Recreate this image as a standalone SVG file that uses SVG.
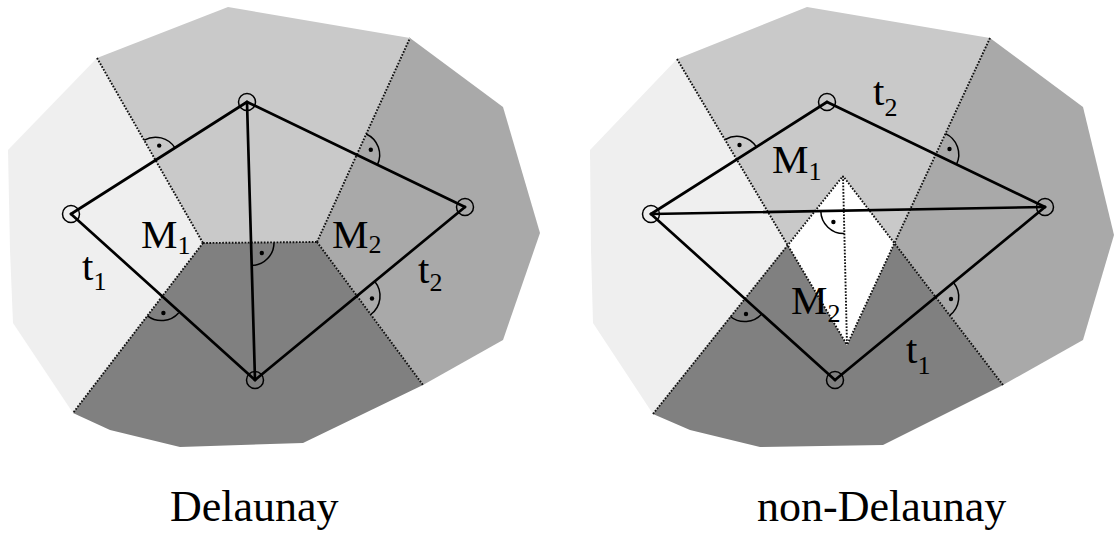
<svg xmlns="http://www.w3.org/2000/svg" width="1115" height="547" viewBox="0 0 1115 547">
<style>
.c0{fill:#efefef}
.c1{fill:#c9c9c9}
.c2{fill:#a9a9a9}
.c3{fill:#808080}
.c4{fill:#ffffff}
.edge{stroke:#000;stroke-width:2.7;fill:none;stroke-linecap:round}
.dot{stroke:#111;stroke-width:1.9;fill:none;stroke-dasharray:1.7 1.5}
.arc{stroke:#000;stroke-width:1.5;fill:none}
.pt{fill:#000}
.vx{stroke:#000;stroke-width:1.5;fill:none}
.lbl{font-family:"Liberation Serif","Times New Roman",serif;font-size:41px;fill:#000}
.sub{font-size:26px}
.cap{font-family:"Liberation Serif","Times New Roman",serif;font-size:44px;fill:#000}
</style>
<rect width="1115" height="547" fill="#fff"/>
<g id="cells-left">
<polygon class="c0" points="97,58 8,150 10,250 13,323 73,413 203,243"/>
<polygon class="c1" points="97,58 228,7 410,38 317,242 203,243"/>
<polygon class="c2" points="410,38 503,107 540,233 503,340 423,385 317,242"/>
<polygon class="c3" points="203,243 317,242 423,385 303,443 180,447 110,430 73,413"/>
</g>
<g id="cells-right">
<polygon class="c0" points="677,59 590,150 591,250 593,323 653,414 787.7,244.9"/>
<polygon class="c1" points="677,59 807,7 990,38 894.4,243.2 843,176 787.7,244.9"/>
<polygon class="c2" points="990,38 1083,107 1114,235 1083,340 1003,385 894.4,243.2"/>
<polygon class="c3" points="653,414 787.7,244.9 847,345 894.4,243.2 1003,385 883,445 760,447 690,430"/>
<polygon class="c4" points="843,176 894.4,243.2 847,345 787.7,244.9"/>
</g>
<g id="connectors">
<g id="voronoi-left">
<line class="dot" x1="97" y1="58" x2="203" y2="243"/>
<line class="dot" x1="203" y1="243" x2="317" y2="242"/>
<line class="dot" x1="317" y1="242" x2="410" y2="38"/>
<line class="dot" x1="203" y1="243" x2="73" y2="413"/>
<line class="dot" x1="317" y1="242" x2="423" y2="385"/>
</g>
<g id="voronoi-right">
<line class="dot" x1="677" y1="59" x2="847" y2="345"/>
<line class="dot" x1="990" y1="38" x2="847" y2="345"/>
<line class="dot" x1="653" y1="414" x2="843" y2="176"/>
<line class="dot" x1="1003" y1="385" x2="843" y2="176"/>
<line class="dot" x1="843" y1="176" x2="847" y2="345"/>
</g>
<g id="edges-left">
<line class="edge" x1="71" y1="214" x2="247" y2="102"/>
<line class="edge" x1="247" y1="102" x2="465" y2="207"/>
<line class="edge" x1="465" y1="207" x2="255" y2="380"/>
<line class="edge" x1="255" y1="380" x2="71" y2="214"/>
<line class="edge" x1="247" y1="102" x2="255" y2="380"/>
</g>
<g id="edges-right">
<line class="edge" x1="651" y1="214" x2="827" y2="102"/>
<line class="edge" x1="827" y1="102" x2="1045" y2="207"/>
<line class="edge" x1="1045" y1="207" x2="835" y2="380"/>
<line class="edge" x1="835" y1="380" x2="651" y2="214"/>
<line class="edge" x1="651" y1="214" x2="1045" y2="207"/>
</g>
</g>
<g id="right-angles">
<path class="arc" d="M144.2,140.2 A23,23 0 0 1 175,147.9"/><circle class="pt" cx="159.2" cy="145.6" r="2.2"/>
<path class="arc" d="M366.2,134 A23,23 0 0 1 377.4,164.9"/><circle class="pt" cx="370.8" cy="149.8" r="2.2"/>
<path class="arc" d="M274,242.4 A23,23 0 0 1 251.7,265.6"/><circle class="pt" cx="261.8" cy="253" r="2.2"/>
<path class="arc" d="M178.6,312.9 A23,23 0 0 1 147.5,315.8"/><circle class="pt" cx="163.4" cy="313" r="2.2"/>
<path class="arc" d="M374.8,281.4 A23,23 0 0 1 370.7,314.5"/><circle class="pt" cx="372" cy="298.5" r="2.2"/>
<path class="arc" d="M725.3,139.5 A23,23 0 0 1 756.4,146.9"/><circle class="pt" cx="739.5" cy="145" r="2.2"/>
<path class="arc" d="M945.5,133.6 A23,23 0 0 1 956.5,164.4"/><circle class="pt" cx="949.5" cy="149" r="2.2"/>
<path class="arc" d="M844.4,233.6 A23,23 0 0 1 820.8,211"/><circle class="pt" cx="833.4" cy="222" r="2.2"/>
<path class="arc" d="M761.8,314 A23,23 0 0 1 730.3,316.5"/><circle class="pt" cx="746" cy="314" r="2.2"/>
<path class="arc" d="M953.5,282.5 A23,23 0 0 1 949.7,315.4"/><circle class="pt" cx="951" cy="299" r="2.2"/>
</g>
<g id="node-L1"><circle class="vx" cx="71" cy="214" r="8.5"/></g>
<g id="node-T1"><circle class="vx" cx="247" cy="102" r="8.5"/></g>
<g id="node-R1"><circle class="vx" cx="465" cy="207" r="8.5"/></g>
<g id="node-B1"><circle class="vx" cx="255" cy="380" r="8.5"/></g>
<g id="node-L2"><circle class="vx" cx="651" cy="214" r="8.5"/></g>
<g id="node-T2"><circle class="vx" cx="827" cy="102" r="8.5"/></g>
<g id="node-R2"><circle class="vx" cx="1045" cy="207" r="8.5"/></g>
<g id="node-B2"><circle class="vx" cx="835" cy="380" r="8.5"/></g>
<g id="labels">
<text class="lbl" x="141" y="248">M<tspan class="sub" dy="6">1</tspan></text>
<text class="lbl" x="332" y="248">M<tspan class="sub" dy="5">2</tspan></text>
<text class="lbl" x="82" y="280">t<tspan class="sub" dy="10">1</tspan></text>
<text class="lbl" x="418" y="283">t<tspan class="sub" dy="8">2</tspan></text>
<text class="lbl" x="772" y="173">M<tspan class="sub" dy="7">1</tspan></text>
<text class="lbl" x="873" y="105">t<tspan class="sub" dy="11">2</tspan></text>
<text class="lbl" x="791" y="314">M<tspan class="sub" dy="8">2</tspan></text>
<text class="lbl" x="906" y="363">t<tspan class="sub" dy="11">1</tspan></text>
<text class="cap" x="170" y="521">Delaunay</text>
<text class="cap" x="757" y="521">non-Delaunay</text>
</g>
</svg>
